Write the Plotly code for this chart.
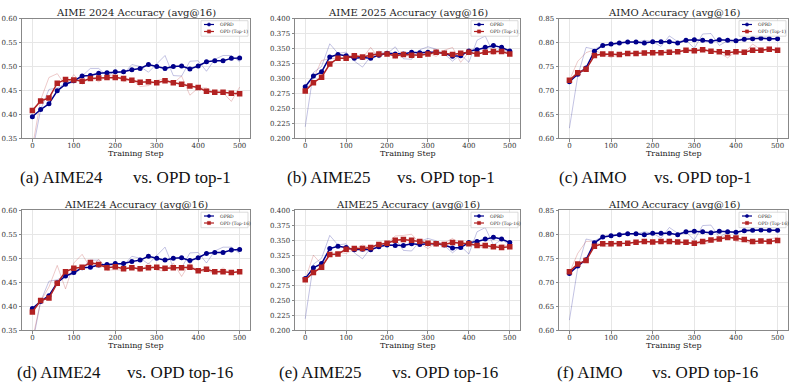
import plotly.graph_objects as go

steps = list(range(0, 501, 20))

# ---------------- AIME 2024 ----------------
oprd_aime24 = [0.395, 0.410, 0.422, 0.449, 0.463, 0.470, 0.480, 0.481, 0.486, 0.487, 0.489, 0.489, 0.493,
               0.496, 0.504, 0.500, 0.496, 0.500, 0.501, 0.495, 0.501, 0.510, 0.512, 0.512, 0.517, 0.518]
oprd_aime24_raw = [0.320, 0.410, 0.452, 0.455, 0.465, 0.466, 0.480, 0.496, 0.496, 0.480, 0.490, 0.485, 0.504,
                   0.500, 0.488, 0.505, 0.523, 0.481, 0.480, 0.511, 0.512, 0.490, 0.515, 0.523, 0.523, 0.510]
top1_aime24 = [0.408, 0.428, 0.434, 0.465, 0.473, 0.472, 0.469, 0.475, 0.476, 0.477, 0.477, 0.475, 0.471,
               0.467, 0.468, 0.466, 0.470, 0.466, 0.463, 0.459, 0.456, 0.448, 0.446, 0.446, 0.444, 0.443]
top1_aime24_raw = [0.330, 0.430, 0.477, 0.485, 0.460, 0.483, 0.463, 0.478, 0.468, 0.480, 0.483, 0.468, 0.474,
                   0.458, 0.460, 0.471, 0.474, 0.465, 0.480, 0.440, 0.455, 0.455, 0.445, 0.445, 0.427, 0.457]
top16_aime24 = [0.388, 0.412, 0.417, 0.448, 0.472, 0.479, 0.481, 0.491, 0.487, 0.480, 0.482, 0.478, 0.480,
                0.478, 0.480, 0.481, 0.479, 0.480, 0.480, 0.481, 0.474, 0.477, 0.472, 0.472, 0.470, 0.472]
top16_aime24_raw = [0.330, 0.410, 0.440, 0.485, 0.436, 0.490, 0.508, 0.480, 0.498, 0.475, 0.476, 0.475, 0.485,
                    0.472, 0.490, 0.475, 0.473, 0.490, 0.462, 0.490, 0.470, 0.475, 0.467, 0.480, 0.467, 0.475]

# ---------------- AIME 2025 ----------------
oprd_aime25 = [0.286, 0.304, 0.311, 0.336, 0.340, 0.338, 0.334, 0.335, 0.334, 0.339, 0.342, 0.341, 0.341,
               0.344, 0.343, 0.344, 0.344, 0.342, 0.337, 0.338, 0.346, 0.348, 0.352, 0.355, 0.352, 0.346]
oprd_aime25_raw = [0.219, 0.310, 0.320, 0.358, 0.342, 0.344, 0.329, 0.319, 0.337, 0.346, 0.341, 0.353, 0.333,
                   0.332, 0.348, 0.353, 0.349, 0.341, 0.329, 0.340, 0.327, 0.364, 0.371, 0.342, 0.351, 0.342]
top1_aime25 = [0.279, 0.293, 0.302, 0.324, 0.334, 0.334, 0.338, 0.336, 0.339, 0.341, 0.341, 0.338, 0.340,
               0.339, 0.339, 0.341, 0.344, 0.342, 0.340, 0.342, 0.344, 0.341, 0.344, 0.345, 0.345, 0.341]
top1_aime25_raw = [0.277, 0.300, 0.330, 0.333, 0.334, 0.334, 0.342, 0.334, 0.352, 0.334, 0.345, 0.334, 0.342,
                   0.334, 0.342, 0.342, 0.337, 0.347, 0.352, 0.327, 0.344, 0.340, 0.346, 0.340, 0.348, 0.342]
top16_aime25 = [0.284, 0.296, 0.305, 0.326, 0.327, 0.335, 0.336, 0.336, 0.338, 0.343, 0.345, 0.350, 0.351,
                0.350, 0.348, 0.345, 0.344, 0.343, 0.346, 0.345, 0.344, 0.341, 0.341, 0.339, 0.338, 0.339]
top16_aime25_raw = [0.285, 0.325, 0.310, 0.327, 0.330, 0.328, 0.335, 0.342, 0.337, 0.345, 0.345, 0.357, 0.358,
                    0.360, 0.345, 0.336, 0.346, 0.345, 0.353, 0.341, 0.347, 0.340, 0.336, 0.338, 0.343, 0.340]

# ---------------- AIMO ----------------
oprd_aimo = [0.718, 0.734, 0.747, 0.782, 0.794, 0.797, 0.799, 0.801, 0.801, 0.799, 0.802, 0.802, 0.802,
             0.799, 0.805, 0.806, 0.805, 0.803, 0.806, 0.805, 0.804, 0.807, 0.808, 0.809, 0.808, 0.808]
oprd_aimo_raw = [0.621, 0.730, 0.790, 0.786, 0.795, 0.797, 0.801, 0.801, 0.800, 0.805, 0.802, 0.792, 0.814,
                 0.802, 0.805, 0.788, 0.818, 0.819, 0.794, 0.804, 0.804, 0.810, 0.809, 0.809, 0.807, 0.808]
top1_aimo = [0.721, 0.737, 0.744, 0.773, 0.776, 0.776, 0.775, 0.777, 0.777, 0.778, 0.779, 0.779, 0.780,
             0.781, 0.784, 0.783, 0.785, 0.782, 0.781, 0.779, 0.781, 0.780, 0.784, 0.784, 0.786, 0.784]
top1_aimo_raw = [0.721, 0.761, 0.779, 0.785, 0.775, 0.769, 0.775, 0.779, 0.778, 0.782, 0.775, 0.779, 0.785,
                 0.778, 0.785, 0.785, 0.787, 0.782, 0.779, 0.768, 0.782, 0.778, 0.797, 0.785, 0.786, 0.784]
top16_aimo = [0.722, 0.738, 0.745, 0.775, 0.780, 0.780, 0.780, 0.781, 0.783, 0.785, 0.784, 0.785, 0.785,
              0.784, 0.783, 0.781, 0.785, 0.788, 0.790, 0.793, 0.792, 0.789, 0.785, 0.786, 0.785, 0.787]
top16_aimo_raw = [0.720, 0.760, 0.785, 0.785, 0.775, 0.775, 0.783, 0.780, 0.785, 0.785, 0.785, 0.780, 0.790,
                  0.780, 0.783, 0.780, 0.780, 0.783, 0.790, 0.800, 0.785, 0.785, 0.780, 0.782, 0.790, 0.793]

panel_titles = ["AIME 2024 Accuracy (avg@16)", "AIME 2025 Accuracy (avg@16)", "AIMO Accuracy (avg@16)",
                "AIME24 Accuracy (avg@16)", "AIME25 Accuracy (avg@16)", "AIMO Accuracy (avg@16)"]
caption_left = ["(a) AIME24", "(b) AIME25", "(c) AIMO", "(d) AIME24", "(e) AIME25", "(f) AIMO"]
caption_right = ["vs. OPD top-1"] * 3 + ["vs. OPD top-16"] * 3
legend_names = ["OPRD", "OPD (Top-1)", "OPD (Top-16)"]
x_ticks = [0, 100, 200, 300, 400, 500]

panels = [
    (oprd_aime24, oprd_aime24_raw, top1_aime24, top1_aime24_raw, legend_names[1], (0.35, 0.60), 0.05, ".2f"),
    (oprd_aime25, oprd_aime25_raw, top1_aime25, top1_aime25_raw, legend_names[1], (0.20, 0.40), 0.025, ".3f"),
    (oprd_aimo, oprd_aimo_raw, top1_aimo, top1_aimo_raw, legend_names[1], (0.60, 0.85), 0.05, ".2f"),
    (oprd_aime24, oprd_aime24_raw, top16_aime24, top16_aime24_raw, legend_names[2], (0.35, 0.60), 0.05, ".2f"),
    (oprd_aime25, oprd_aime25_raw, top16_aime25, top16_aime25_raw, legend_names[2], (0.20, 0.40), 0.025, ".3f"),
    (oprd_aimo, oprd_aimo_raw, top16_aimo, top16_aimo_raw, legend_names[2], (0.60, 0.85), 0.05, ".2f"),
]

W, H = 795, 392
BLUE = "#00008b"
RED = "#b22222"
BLUE_RAW = "rgba(0,0,139,0.30)"
RED_RAW = "rgba(178,34,34,0.30)"
FONT = "DejaVu Serif"
CAP_FONT = "Liberation Serif"

# pixel boxes of plot areas: (left, right, top, bottom)
xpix = [(22, 250), (295, 520), (559, 788)]
ypix = [(15, 137), (210.5, 333)]
caption_pos = [(17.5, 131, 177), (285, 395, 177), (557, 652, 177),
               (15, 125, 376), (277, 390, 376), (555, 650, 376)]

fig = go.Figure()
layout = dict(width=W, height=H, margin=dict(l=0, r=0, t=0, b=0),
              paper_bgcolor="white", plot_bgcolor="white", showlegend=False,
              font=dict(family=FONT, color="#333"))
annotations = []
shapes = []

for i, (b, braw, r, rraw, rname, yr, dt, fmt) in enumerate(panels):
    row, col = divmod(i, 3)
    n = i + 1
    xa = "x" if n == 1 else f"x{n}"
    ya = "y" if n == 1 else f"y{n}"
    xl, xr = xpix[col]
    yt, yb = ypix[row]
    common = dict(xaxis=xa, yaxis=ya, x=steps, mode="lines", hoverinfo="skip")
    fig.add_trace(go.Scatter(y=braw, line=dict(color=BLUE_RAW, width=0.8), **common))
    fig.add_trace(go.Scatter(y=rraw, line=dict(color=RED_RAW, width=0.8), **common))
    fig.add_trace(go.Scatter(xaxis=xa, yaxis=ya, x=steps, y=b, mode="lines+markers", name="OPRD",
                             line=dict(color=BLUE, width=1.5),
                             marker=dict(symbol="circle", size=5, color=BLUE)))
    fig.add_trace(go.Scatter(xaxis=xa, yaxis=ya, x=steps, y=r, mode="lines+markers", name=rname,
                             line=dict(color=RED, width=1.5),
                             marker=dict(symbol="square", size=5.5, color=RED)))

    axis_common = dict(showline=True, mirror=True, linecolor="#888", linewidth=1,
                       showgrid=True, gridcolor="#e6e6e6", gridwidth=0.7, zeroline=False,
                       ticks="outside", ticklen=2.5, tickcolor="#888", tickwidth=0.8,
                       tickfont=dict(family=FONT, size=7, color="#333"))
    layout["xaxis" if n == 1 else f"xaxis{n}"] = dict(
        domain=[xl / W, xr / W], anchor=ya, range=[-25, 525], tickvals=x_ticks,
        ticklabelstandoff=-2, **axis_common)
    layout["yaxis" if n == 1 else f"yaxis{n}"] = dict(
        domain=[1 - yb / H, 1 - yt / H], anchor=xa, range=list(yr), dtick=dt, tick0=yr[0],
        tickformat=fmt, **axis_common)

    cx = (xl + xr) / 2 / W
    annotations.append(dict(text=panel_titles[i], x=cx, y=1 - (yt - 6) / H, xref="paper", yref="paper",
                            xanchor="center", yanchor="middle", showarrow=False,
                            font=dict(family=FONT, size=10, color="#222")))
    annotations.append(dict(text="Training Step", x=cx, y=1 - (yb + 16) / H, xref="paper", yref="paper",
                            xanchor="center", yanchor="middle", showarrow=False,
                            font=dict(family=FONT, size=8, color="#222")))
    cl, cr, cy = caption_pos[i]
    annotations.append(dict(text=caption_left[i], x=cl / W, y=1 - cy / H, xref="paper", yref="paper",
                            xanchor="left", yanchor="middle", showarrow=False,
                            font=dict(family=CAP_FONT, size=17, color="#111")))
    annotations.append(dict(text=caption_right[i], x=cr / W, y=1 - cy / H, xref="paper", yref="paper",
                            xanchor="left", yanchor="middle", showarrow=False,
                            font=dict(family=CAP_FONT, size=17, color="#111")))

    dref = dict(xref=f"{xa} domain", yref=f"{ya} domain", xanchor=1, yanchor=1,
                xsizemode="pixel", ysizemode="pixel")
    shapes.append(dict(type="rect", x0=-49, x1=-2, y0=-2, y1=-17.5,
                       line=dict(color="#cccccc", width=0.7), fillcolor="rgba(255,255,255,0.85)", **dref))
    for k, (nm, colr, sym) in enumerate([("OPRD", BLUE, "circle"), (rname, RED, "square")]):
        yc = -5.8 - 7 * k
        shapes.append(dict(type="line", x0=-46, x1=-36, y0=yc, y1=yc,
                           line=dict(color=colr, width=1.2), **dref))
        shapes.append(dict(type="circle" if sym == "circle" else "rect",
                           x0=-42.6, x1=-39.4, y0=yc - 1.6, y1=yc + 1.6,
                           line=dict(color=colr, width=0.5), fillcolor=colr, **dref))
        annotations.append(dict(text=nm, x=1, y=1, xref=f"{xa} domain", yref=f"{ya} domain",
                                xanchor="left", yanchor="middle", xshift=-32, yshift=yc,
                                showarrow=False, font=dict(family=FONT, size=4.5, color="#333")))

layout["annotations"] = annotations
layout["shapes"] = shapes
fig.update_layout(**layout)
fig.write_html("out.html")
